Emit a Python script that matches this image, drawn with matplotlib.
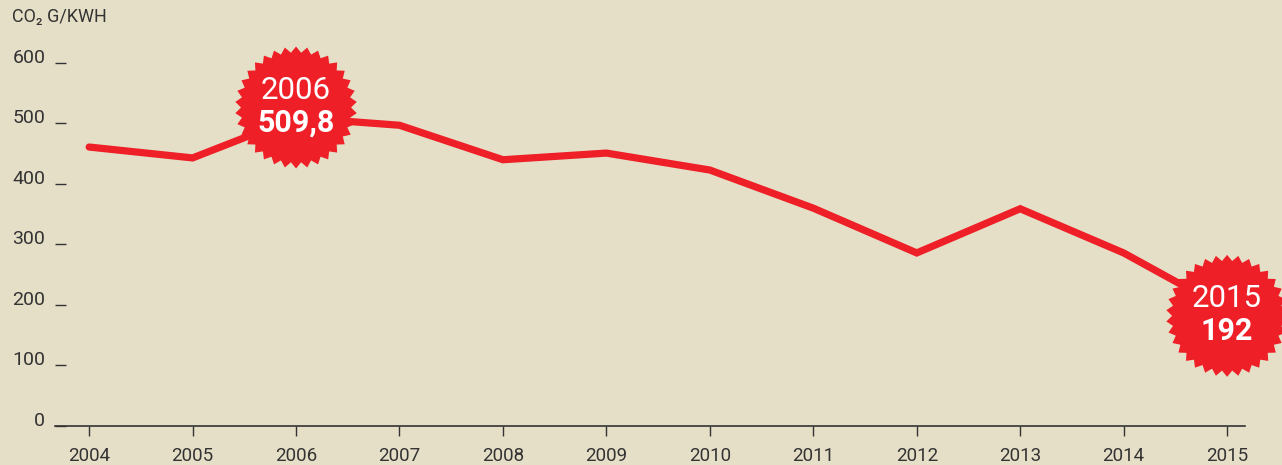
import numpy as np
import matplotlib.pyplot as plt
from matplotlib.patches import Polygon
from matplotlib.transforms import ScaledTranslation

years = [2004, 2005, 2006, 2007, 2008, 2009, 2010, 2011, 2012, 2013, 2014, 2015]
co2 = [461, 443, 509.8, 497, 440, 451, 423, 360, 286, 359, 286, 192]
yticks = [0, 100, 200, 300, 400, 500, 600]
badges = [(2006, 509.8, "2006", "509,8"), (2015, 192, "2015", "192")]

bg = "#e6dfc8"
red = "#ee1f26"
ink = "#333333"
plt.rcParams['font.family'] = ['Roboto', 'DejaVu Sans']

fig = plt.figure(figsize=(12.82, 4.65), dpi=100, facecolor=bg)
ax = fig.add_axes([0.0429, 0.0839, 0.928, 0.9161])
ax.set_facecolor(bg)

ax.plot(years, co2, color=red, lw=5.2, solid_capstyle='round', solid_joinstyle='miter', zorder=3)

ax.set_xlim(2003.67, 2015.17)
ax.set_ylim(0, 704)
for s in ['left', 'right', 'top']:
    ax.spines[s].set_visible(False)
ax.spines['bottom'].set_color(ink)
ax.spines['bottom'].set_linewidth(1.2)

ax.set_xticks(years)
ax.set_xticklabels([str(y) for y in years])
ax.tick_params(axis='x', direction='out', length=7, width=1, color=ink,
               labelsize=13.5, labelcolor=ink, pad=8)
ax.set_yticks(yticks)
ax.set_yticklabels([str(v) for v in yticks])
ax.tick_params(axis='y', direction='in', length=8, width=1, color=ink,
               labelsize=14, labelcolor=ink, pad=7)
for lbl in ax.get_yticklabels():
    lbl.set_va('baseline')

fig.text(12 / 1282, 1 - 17 / 465, "CO\u2082 G/KWH", fontsize=13, color=ink, va='center', ha='left')

# starburst badges
n = 34
ang = np.linspace(0, 2 * np.pi, 2 * n, endpoint=False) + np.pi / 2
rad = np.where(np.arange(2 * n) % 2 == 0, 0.61, 0.55)
dy_off = {2006: 0.10, 2015: -0.06}
for yr, val, top, bottom in badges:
    tr = fig.dpi_scale_trans + ScaledTranslation(yr, val, ax.transData)
    cy = dy_off[yr]
    verts = np.column_stack([rad * np.cos(ang), rad * np.sin(ang) + cy])
    ax.add_patch(Polygon(verts, closed=True, facecolor=red, edgecolor='none',
                         transform=tr, clip_on=False, zorder=5))
    ax.text(0, cy + 0.17, top, transform=tr, ha='center', va='center', color='white',
            fontsize=22.5, fontweight='normal', zorder=6, clip_on=False)
    ax.text(0, cy - 0.15, bottom, transform=tr, ha='center', va='center', color='white',
            fontsize=22, fontweight='bold', zorder=6, clip_on=False)

fig.savefig("out.png", dpi=100, facecolor=bg)
